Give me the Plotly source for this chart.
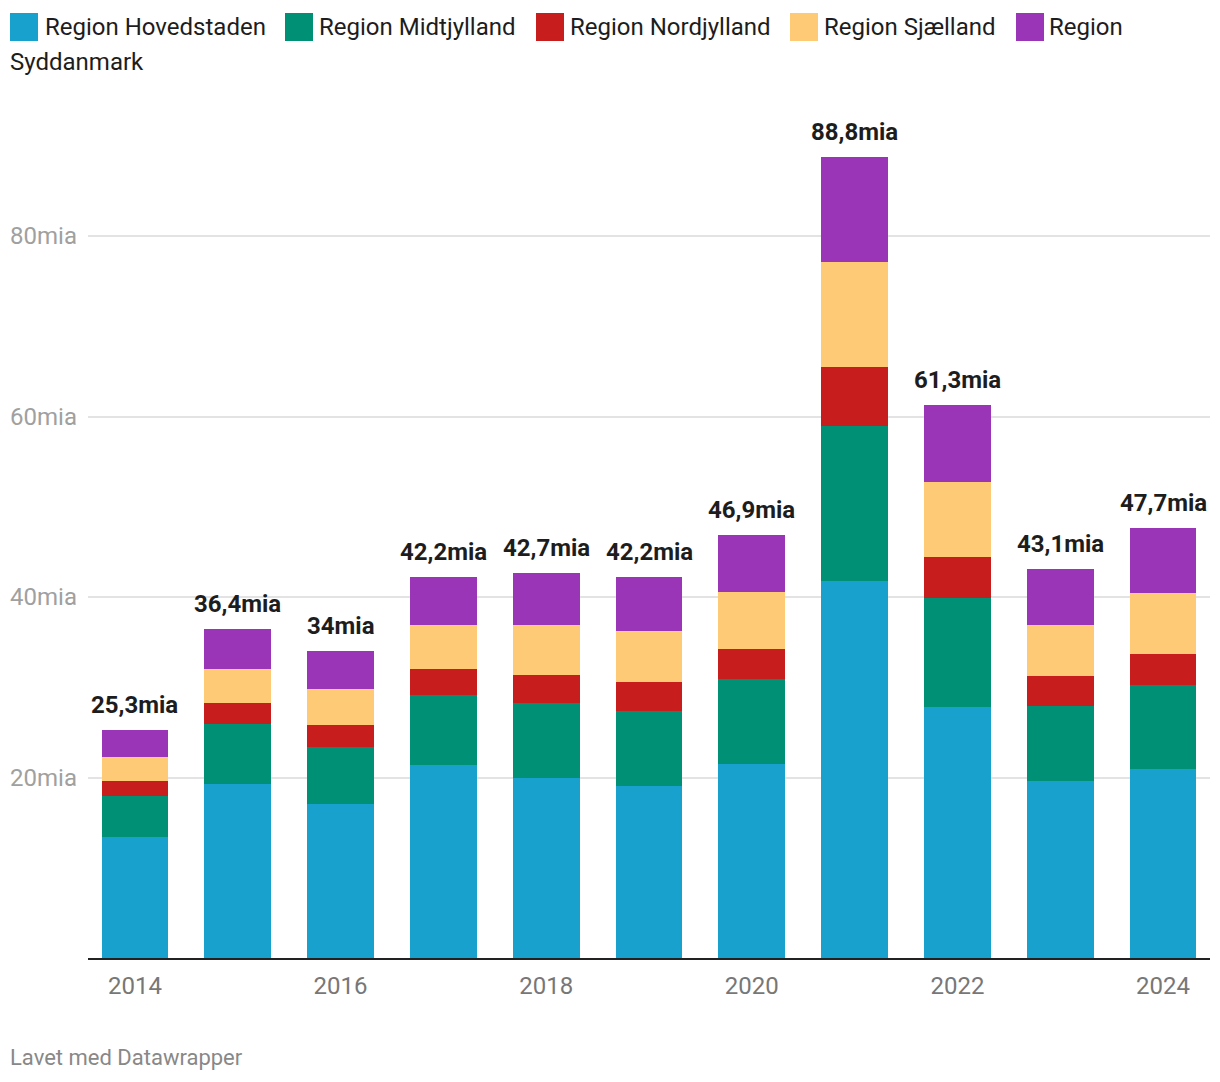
import plotly.graph_objects as go

years = [2014, 2015, 2016, 2017, 2018, 2019, 2020, 2021, 2022, 2023, 2024]
regions = ["Region Hovedstaden", "Region Midtjylland", "Region Nordjylland",
           "Region Sjælland", "Region Syddanmark"]
hovedstaden = [13.4, 19.3, 17.1, 21.4, 19.9, 19.1, 21.5, 41.8, 27.8, 19.6, 20.9]
midtjylland = [4.55, 6.6, 6.3, 7.7, 8.35, 8.3, 9.4, 17.1, 12.1, 8.3, 9.35]
nordjylland = [1.65, 2.35, 2.4, 2.9, 3.1, 3.2, 3.3, 6.6, 4.5, 3.35, 3.45]
sjaelland = [2.7, 3.75, 4.0, 4.9, 5.5, 5.6, 6.35, 11.6, 8.3, 5.65, 6.7]
syddanmark = [3.0, 4.4, 4.2, 5.3, 5.85, 6.0, 6.35, 11.7, 8.6, 6.2, 7.3]
colors = ["#18a1cd", "#009076", "#c71e1d", "#ffca76", "#9b35b7"]
y_ticks = [20, 40, 60, 80]
x_ticks = [2014, 2016, 2018, 2020, 2022, 2024]

series = [hovedstaden, midtjylland, nordjylland, sjaelland, syddanmark]

# page offset of the plot div (body margin) is 8px
OFF = 8
W, H = 1220 - OFF, 1082 - OFF
L, R, T, B = 88 - OFF, 10, 120 - OFF, 124
FONT = "Roboto"


def px_x(px):
    return (px - OFF - L) / (W - L - R)


def px_y(py):
    return 1 - (py - OFF - T) / (H - T - B)


def fmt(v):
    v = round(v, 1)
    s = f"{v:.1f}"
    if s.endswith(".0"):
        s = s[:-2]
    return s.replace(".", ",") + "mia"


fig = go.Figure()
for name, vals, col in zip(regions, series, colors):
    fig.add_trace(go.Bar(x=years, y=vals, name=name, marker_color=col,
                         marker_line_width=0, width=0.65, showlegend=False,
                         hoverinfo="skip"))

totals = [sum(v) for v in zip(*series)]
annotations = []
for yr, tot in zip(years, totals):
    annotations.append(dict(x=yr, y=tot, xref="x", yref="y", text=fmt(tot),
                            showarrow=False, yanchor="bottom", yshift=9,
                            font=dict(family=FONT, size=24, color="#1d1d1d", weight="bold")))

# custom legend (Datawrapper style, wrapping)
sw_x = [10, 285, 536, 790, 1016]
txt_x = [45, 319, 570, 824, 1049]
legend_labels = ["Region Hovedstaden", "Region Midtjylland", "Region Nordjylland",
                 "Region Sjælland", "Region"]
shapes = []
for sx, tx, lab, col in zip(sw_x, txt_x, legend_labels, colors):
    shapes.append(dict(type="rect", xref="paper", yref="paper",
                       x0=px_x(sx), x1=px_x(sx + 28), y0=px_y(41), y1=px_y(13),
                       fillcolor=col, line_width=0))
    annotations.append(dict(x=px_x(tx), y=px_y(27), xref="paper", yref="paper",
                            text=lab, showarrow=False, xanchor="left", yanchor="middle",
                            xshift=-2,
                            font=dict(family=FONT, size=24, color="#1d1d1d")))
annotations.append(dict(x=px_x(10), y=px_y(62), xref="paper", yref="paper",
                        text="Syddanmark", showarrow=False, xanchor="left", yanchor="middle",
                        xshift=-2,
                        font=dict(family=FONT, size=24, color="#1d1d1d")))
annotations.append(dict(x=px_x(10), y=px_y(1057), xref="paper", yref="paper",
                        text="Lavet med Datawrapper", showarrow=False, xanchor="left",
                        yanchor="middle", xshift=-2,
                        font=dict(family=FONT, size=22, color="#888888")))

fig.update_layout(
    width=W, height=H,
    margin=dict(l=L, r=R, t=T, b=B, autoexpand=False),
    barmode="stack",
    plot_bgcolor="white", paper_bgcolor="white",
    font=dict(family=FONT),
    annotations=annotations,
    shapes=shapes,
    xaxis=dict(range=[2013.543, 2024.457], tickvals=x_ticks,
               ticktext=[str(v) for v in x_ticks], showgrid=False,
               showline=True, linecolor="#222222", linewidth=2, ticks="",
               tickfont=dict(family=FONT, size=24, color="#777777"),
               ticklabelstandoff=5, zeroline=False, automargin=False),
    yaxis=dict(range=[0, (958 - OFF - T) / 9.025], tickvals=y_ticks,
               ticktext=[f"{v}mia" for v in y_ticks], showgrid=True,
               gridcolor="#e3e3e3", gridwidth=2, zeroline=False, ticks="",
               tickfont=dict(family=FONT, size=24, color="#a0a0a0"),
               ticklabelstandoff=10, automargin=False),
)

fig.write_html("out.html")
